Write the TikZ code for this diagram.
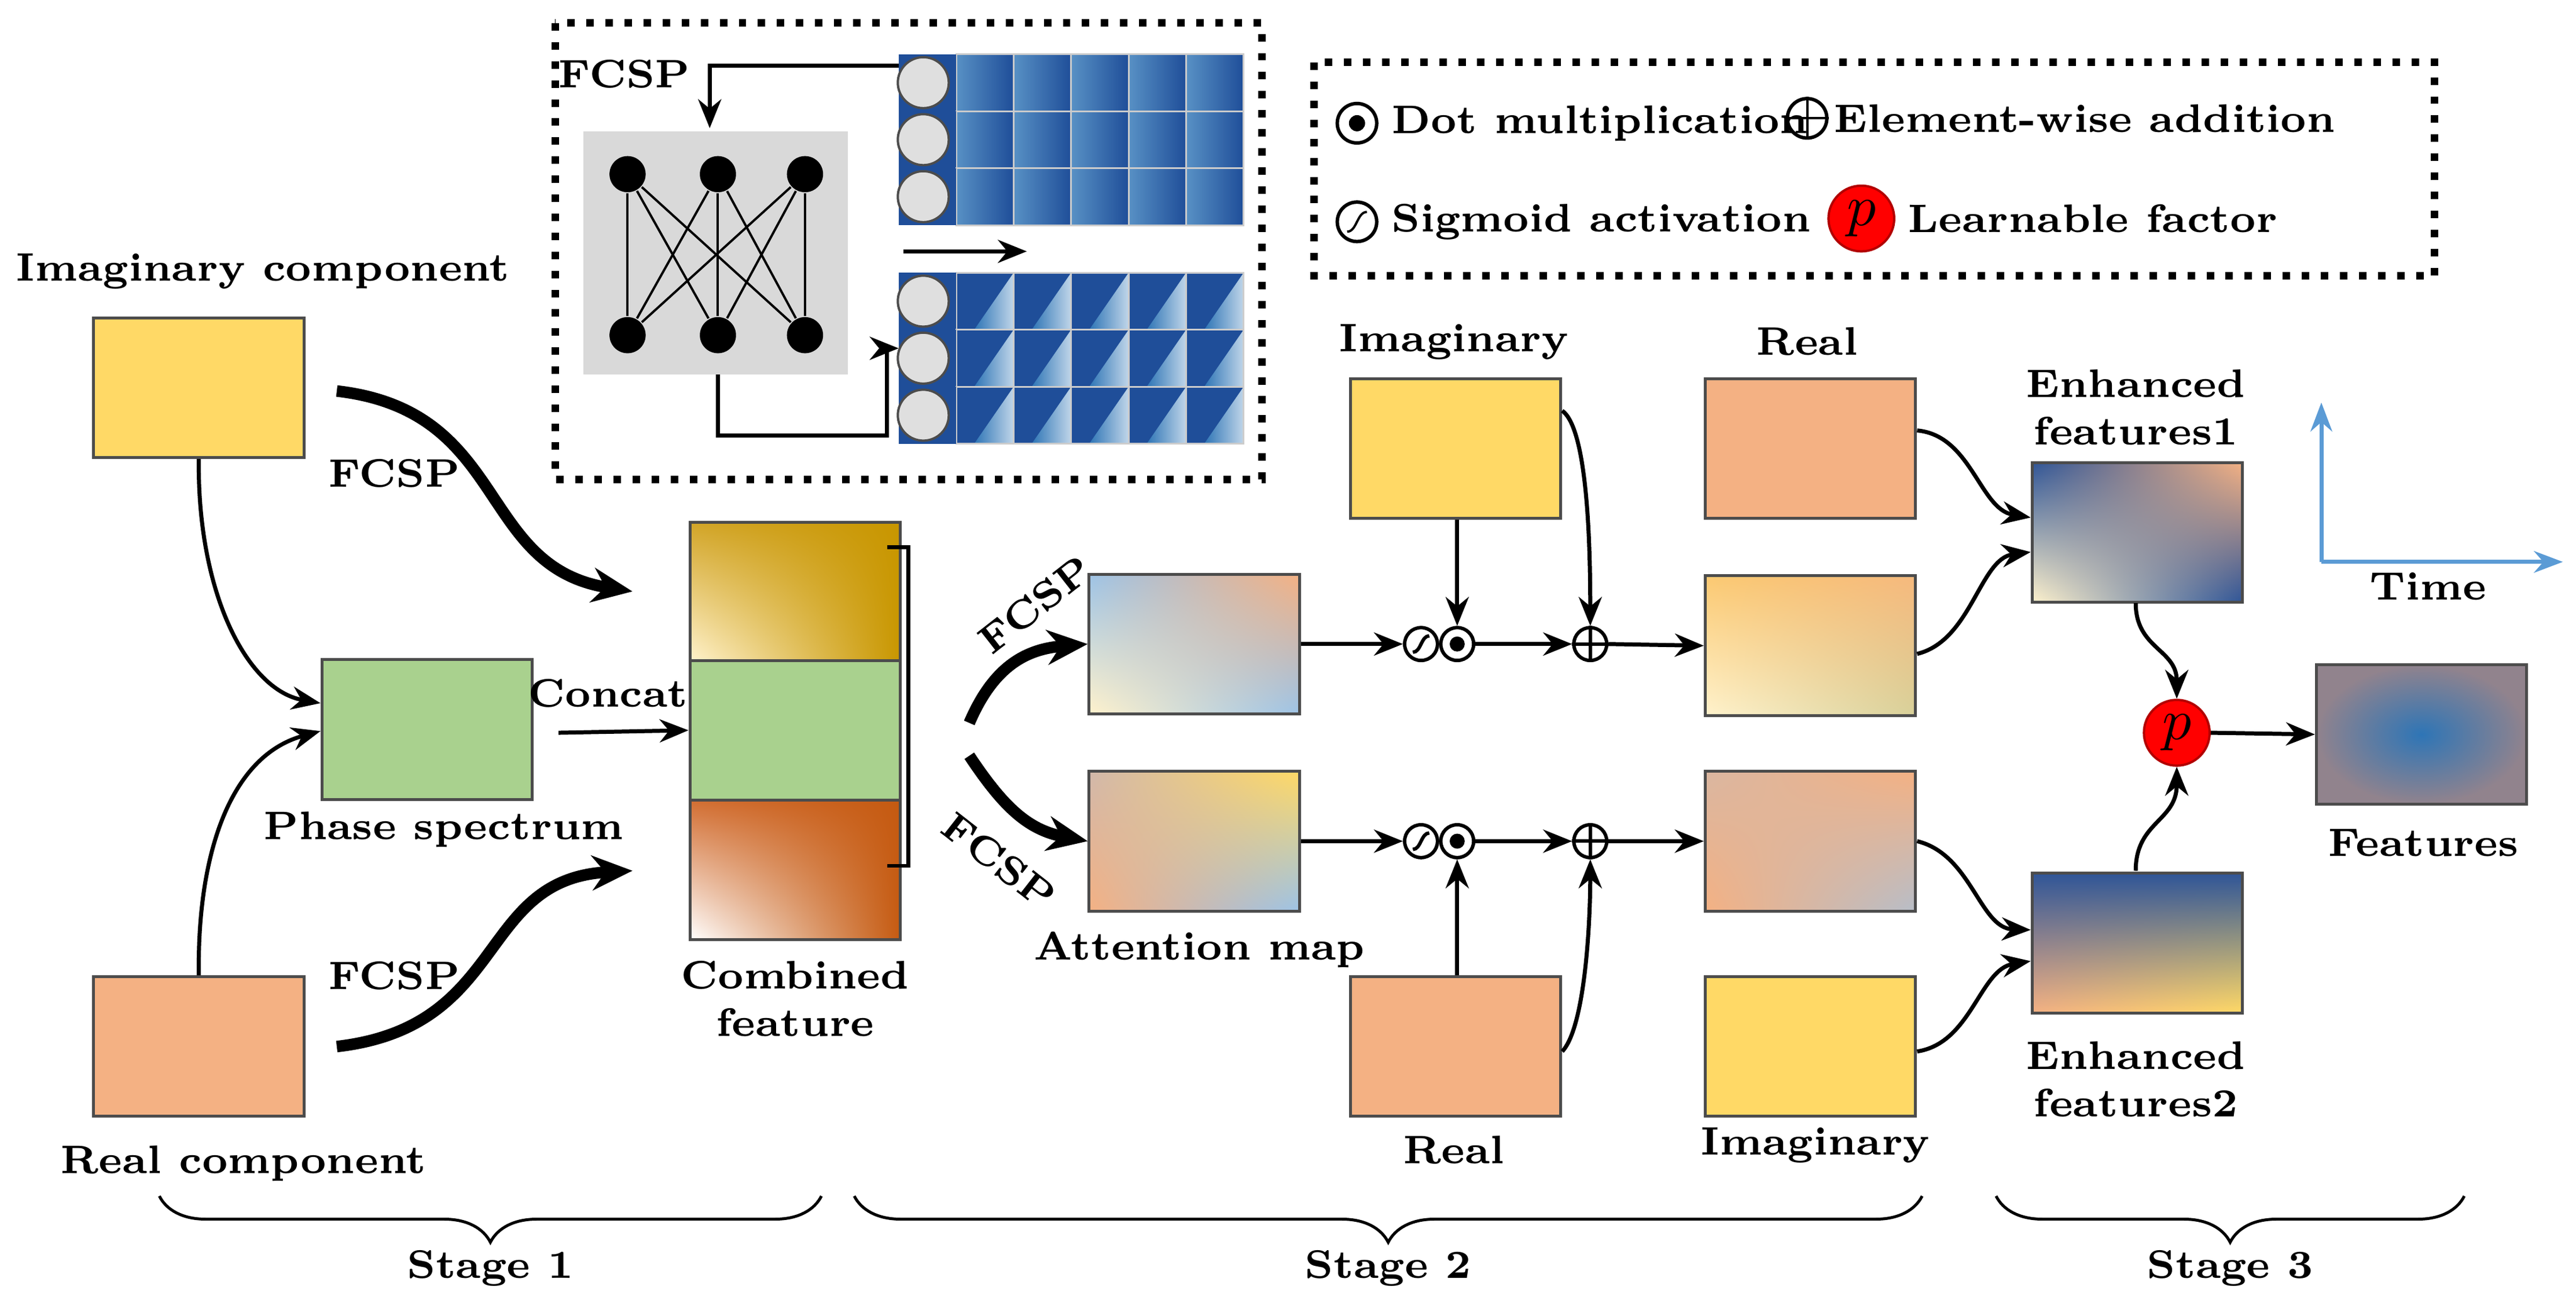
\documentclass[tikz,border=0pt]{standalone}
\usetikzlibrary{arrows.meta,shadings,decorations.pathreplacing,calc}
\begin{document}
\begin{tikzpicture}[x=0.01cm,y=-0.01cm,font=\fontsize{6.9}{8.2}\selectfont\bfseries,
 box/.style={draw=gray!60!black,line width=0.5pt,minimum width=1.28cm,minimum height=0.85cm,inner sep=0},
 arr/.style={-{Stealth[length=5pt,width=4pt]},line width=0.7pt},
 thk/.style={-{Stealth[length=7pt,width=6pt]},line width=2pt},
 op/.style={circle,draw,line width=0.6pt,minimum size=0.2cm,inner sep=0}]
\useasboundingbox (0,0) rectangle (1568,796);
\definecolor{Y}{HTML}{FFD966}\definecolor{S}{HTML}{F4B183}\definecolor{G}{HTML}{A9D18E}
\definecolor{C}{HTML}{FFF2CC}\definecolor{B}{HTML}{9DC3E6}\definecolor{DB}{HTML}{2F5597}
\definecolor{CB}{HTML}{2E75B6}\definecolor{CD}{HTML}{1F4E99}
\tikzset{yel/.style={box,fill=Y},sal/.style={box,fill=S},
 cell/.style={draw=gray!40,line width=0.3pt,left color=CB!80!white,right color=CD}}
% Stage 1
\node at (160,165) {Imaginary component};
\node[yel] (ic) at (121,236) {};
\node[sal] (rc) at (121,637) {};
\node at (148,708) {Real component};
\node[box,fill=G] (ps) at (260,444) {};
\node at (270,505) {Phase spectrum};
\draw[arr] (ic.south) .. controls (120,360) and (150,420) .. (ps.west|-0,428);
\draw[arr] (rc.north) .. controls (120,520) and (140,460) .. (ps.west|-0,445);
\draw[thk] (205,238) .. controls (310,250) and (290,345) .. (385,360);
\node at (240,288) {FCSP};
\draw[thk] (205,637) .. controls (310,625) and (290,535) .. (385,530);
\node at (240,594) {FCSP};
\node at (370,422) {Concat};
% combined feature
\node[box,minimum height=0.84cm,upper right={rgb,255:red,200;green,150;blue,0},lower left=C,upper left={rgb,255:red,210;green,165;blue,40},lower right={rgb,255:red,200;green,150;blue,0}] (cf1) at (484,360) {};
\node[box,minimum height=0.85cm,fill=G] (cf2) at (484,444.5) {};
\node[box,minimum height=0.85cm,upper right={rgb,255:red,197;green,90;blue,17},lower left=white,upper left={rgb,255:red,210;green,110;blue,50},lower right={rgb,255:red,197;green,90;blue,17}] (cf3) at (484,529.5) {};
\draw[arr] (340,446) -- (cf2.west);
\node[align=center] at (484,608) {Combined\\feature};
\draw[line width=0.7pt] (540,333) -- (553,333) -- (553,527) -- (540,527);
% attention
\tikzset{att1/.style={box,lower left=C,upper right=S,upper left=B,lower right=B},
att2/.style={box,lower left=S,upper right=Y,upper left=S!60!B,lower right=B}}
\node[att1] (a1) at (727,392) {};
\node[att2] (a2) at (727,512) {};
\node at (730,578) {Attention map};
\draw[thk] (590,440) .. controls (605,405) and (625,395) .. (a1.west);
\draw[thk] (590,460) .. controls (610,490) and (625,505) .. (a2.west);
\node[rotate=38] at (630,368) {FCSP};
\node[rotate=-38] at (608,524) {FCSP};
\foreach \r/\y in {1/392,2/512}{
 \node[op] (sg\r) at (865,\y) {};
 \draw[line width=0.6pt] ($(sg\r)+(-5,5)$) .. controls ($(sg\r)+(0,5)$) and ($(sg\r)+(0,-5)$) .. ($(sg\r)+(5,-5)$);
 \node[op] (dt\r) at (887,\y) {};
 \fill (dt\r) circle (1.3pt);
 \node[op] (pl\r) at (968,\y) {};
 \draw[line width=0.6pt] (pl\r.north)--(pl\r.south) (pl\r.west)--(pl\r.east);
 \draw[arr] (a\r.east) -- (sg\r.west);
 \draw[arr] (dt\r.east) -- (pl\r.west);
}
\node[yel] (im2) at (886,273) {};
\node at (885,208) {Imaginary};
\node[sal] (re2) at (886,637) {};
\node at (885,700) {Real};
\draw[arr] (im2.south-|dt1) -- (dt1.north);
\draw[arr] (im2.east|-0,250) .. controls (965,260) and (968,320) .. (pl1.north);
\draw[arr] (re2.north-|dt2) -- (dt2.south);
\draw[arr] (re2.east|-0,640) .. controls (965,625) and (968,560) .. (pl2.south);
\node[sal] (r3) at (1102,273) {};
\node at (1100,208) {Real};
\node[box,lower left=C,upper right=S!80!Y,upper left=Y!60!S,lower right=B!40!Y] (e1) at (1102,393) {};
\node[box,lower left=S,upper right=S,upper left=S!70!B,lower right=B!70!S] (e2) at (1102,512) {};
\node[yel] (i3) at (1102,637) {};
\node at (1105,697) {Imaginary};
\draw[arr] (pl1.east) -- (e1.west);
\draw[arr] (pl2.east) -- (e2.west);
% stage 3
\node[box,upper left=DB,lower right=DB,upper right=S,lower left=C] (en1) at (1301,324) {};
\node[align=center] at (1300,248) {Enhanced\\features1};
\node[box,upper left=DB,lower right=Y,upper right=DB,lower left=S] (en2) at (1301,574) {};
\node[align=center] at (1300,657) {Enhanced\\features2};
\draw[arr] (r3.east|-0,262) .. controls (1200,265) and (1205,310) .. (en1.west|-0,315);
\draw[arr] (e1.east|-0,398) .. controls (1200,390) and (1205,340) .. (en1.west|-0,336);
\draw[arr] (e2.east|-0,512) .. controls (1200,520) and (1205,565) .. (en2.west|-0,566);
\draw[arr] (i3.east|-0,640) .. controls (1200,635) and (1205,590) .. (en2.west|-0,585);
\node[circle,fill=red,draw=red!70!black,minimum size=0.4cm,inner sep=0,font=\fontsize{10}{10}\selectfont] (p) at (1325,446) {$p$};
\draw[arr] (1300,367) .. controls (1300,395) and (1325,395) .. (p.north);
\draw[arr] (1300,530) .. controls (1300,500) and (1325,500) .. (p.south);
\node[box,inner color=CB,outer color=S!50!DB] (ft) at (1474,447) {};
\draw[arr] (p.east) -- (ft.west);
\node at (1475,513) {Features};
\definecolor{AX}{HTML}{5B9BD5}
\coordinate (o) at (1413,342);
\draw[-{Stealth[length=5pt]},AX,line width=0.7pt] (o) -- (1413,245);
\draw[-{Stealth[length=5pt]},AX,line width=0.7pt] (o) -- (1560,342);
\node at (1478,357) {Time};
% legend
\draw[dotted,line width=1.3pt] (800,38) rectangle (1482,168);
\tikzset{lg/.style={font=\fontsize{6.9}{8.2}\selectfont\bfseries,anchor=west,inner sep=1pt}}
\node[op,minimum size=0.24cm] (l1) at (826,75) {}; \fill (l1) circle (1.4pt);
\node[lg] at (843,75) {Dot multiplication};
\node[op,minimum size=0.24cm] (l2) at (1100,72) {};
\draw (l2.north)--(l2.south) (l2.west)--(l2.east);
\node[lg] at (1112,72) {Element-wise addition};
\node[op,minimum size=0.24cm] (l3) at (826,135) {};
\draw ($(l3)+(-6,6)$) .. controls ($(l3)+(0,6)$) and ($(l3)+(0,-6)$) .. ($(l3)+(6,-6)$);
\node[lg] at (843,135) {Sigmoid activation};
\node[circle,fill=red,draw=red!70!black,minimum size=0.4cm,inner sep=0,font=\fontsize{10}{10}\selectfont] (l4) at (1133,133) {$p$};
\node[lg] at (1157,133) {Learnable factor};
% FCSP inset
\draw[dotted,line width=1.3pt] (338,14) rectangle (768,292);
\node at (380,45) {FCSP};
\fill[gray!30] (355,80) rectangle (516,228);
\foreach \i/\x in {1/382,2/437,3/490}{\node[circle,fill=black,minimum size=0.22cm,inner sep=0] (t\i) at (\x,106) {};
 \node[circle,fill=black,minimum size=0.22cm,inner sep=0] (b\i) at (\x,204) {};}
\foreach \i in {1,2,3}{\foreach \j in {1,2,3}{\draw[line width=0.4pt] (t\i) -- (b\j);}}
\foreach \g/\y in {0/33,1/166}{
 \foreach \r in {0,1,2}{
  \foreach \c in {1,...,5}{
   \ifnum\g=0
   \shade[cell] (582+\c*35-35,\y+\r*34.7) rectangle +(35,34.7);
   \else
   \fill[CD] (582+\c*35-35,\y+\r*34.7) rectangle +(35,34.7);
   \shade[left color=CB,right color=white!70!CB] (582+\c*35-35+35,\y+\r*34.7) -- +(0,34.7) -- +(-24,34.7) -- cycle;
   \draw[gray!40,line width=0.3pt] (582+\c*35-35,\y+\r*34.7) rectangle +(35,34.7);
   \fi}
  \fill[CD] (547,\y+\r*34.7) rectangle +(35,34.7);
  \node[circle,draw=gray!60!black,fill=gray!25,minimum size=0.31cm,inner sep=0] at (562,\y+17.3+\r*34.7) {};}
}
\coordinate (gt) at (547,40);
\draw[arr] (gt) -- (432,40) -- (432,78);
\coordinate (gb) at (547,212);
\draw[arr] (437,228) -- (437,265) -- (540,265) -- (540,212) -- (gb);
\draw[arr] (550,153) -- (625,153);
% stages
\foreach \a/\b/\t in {97/500/Stage 1,520/1170/Stage 2,1215/1500/Stage 3}{
 \draw[decorate,decoration={brace,mirror,amplitude=8pt},line width=0.5pt] (\a,728) -- (\b,728);
 \node at ({(\a+\b)/2},772) {\t};}
\end{tikzpicture}
\end{document}
